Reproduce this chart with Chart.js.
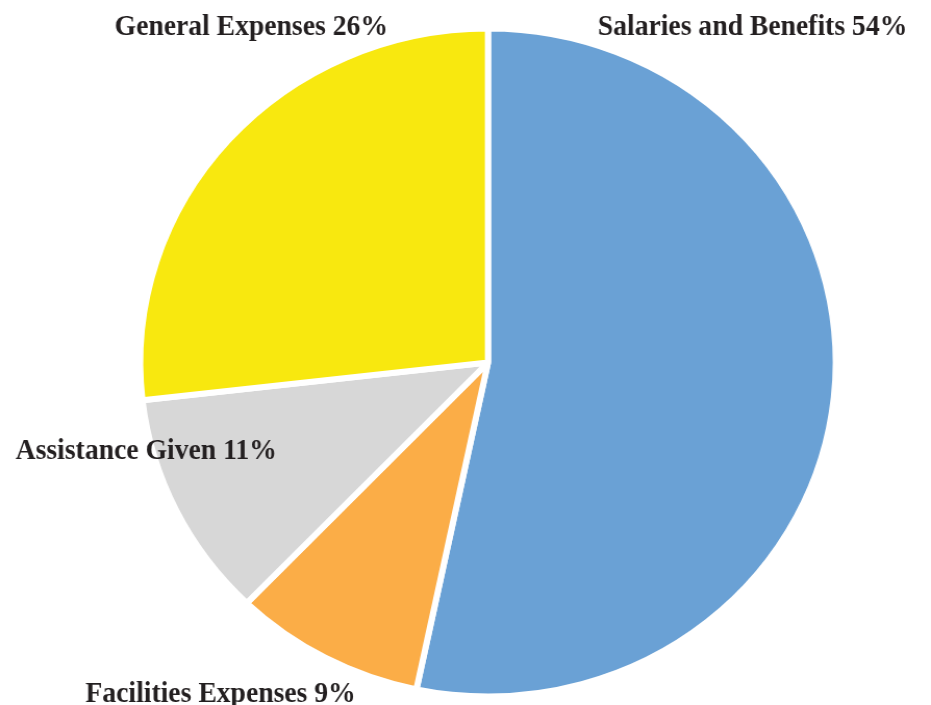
<!DOCTYPE html>
<html>
<head>
<meta charset="utf-8">
<script src="https://cdn.jsdelivr.net/npm/chart.js@4.4.1/dist/chart.umd.min.js"></script>
<style>
    html, body { margin: 0; padding: 0; background: #ffffff; overflow: hidden; }
    #budgetPie { display: block; }
</style>
</head>
<body>
<!-- drawn 894 wide and shown 931 wide, so the pie comes out slightly oval like the original -->
<canvas id="budgetPie" width="894" height="705" style="width:931px;height:705px;"></canvas>
<script>
// Slice data, clockwise from 12 o'clock
const categories = ['Salaries and Benefits', 'Facilities Expenses', 'Assistance Given', 'General Expenses'];
const sliceShares = [53.3, 8.9, 11.0, 26.8];   // measured from the slice angles
const printedPercents = [54, 9, 11, 26];       // as printed in the labels
const sliceColors = ['#6aa1d5', '#fbad47', '#d7d7d7', '#f8e80f'];

// Where each label sits (canvas px, left edge / baseline)
const labelSpots = [
    { x: 574, y: 35 },
    { x: 82, y: 702 },
    { x: 15, y: 459 },
    { x: 110, y: 35 }
];

const pieLabels = {
    id: 'pieLabels',
    afterDraw(chart) {
        const ctx = chart.ctx;
        ctx.save();
        ctx.font = "bold 29.5px 'Liberation Serif', 'DejaVu Serif', serif";
        ctx.fillStyle = '#231f20';
        ctx.textAlign = 'left';
        ctx.textBaseline = 'alphabetic';
        categories.forEach((name, i) => {
            const spot = labelSpots[i];
            ctx.save();
            ctx.translate(spot.x, spot.y);
            ctx.scale(0.9, 1); // a bit narrower, closer to the original face
            ctx.fillText(name + ' ' + printedPercents[i] + '%', 0, 0);
            ctx.restore();
        });
        ctx.restore();
    }
};

const config = {
    type: 'pie',
    data: {
        labels: categories,
        datasets: [{
            data: sliceShares,
            backgroundColor: sliceColors,
            borderColor: '#ffffff',
            borderWidth: 6,
            hoverOffset: 0
        }]
    },
    options: {
        responsive: false,
        animation: false,
        radius: 334,
        layout: {
            padding: { left: 137.6, right: 94.4, top: 31.5, bottom: 11.5 }
        },
        plugins: {
            legend: { display: false },
            tooltip: { enabled: false }
        }
    },
    plugins: [pieLabels]
};

const pieContext = document.getElementById('budgetPie').getContext('2d');
const budgetPie = new Chart(pieContext, config);
</script>
</body>
</html>
